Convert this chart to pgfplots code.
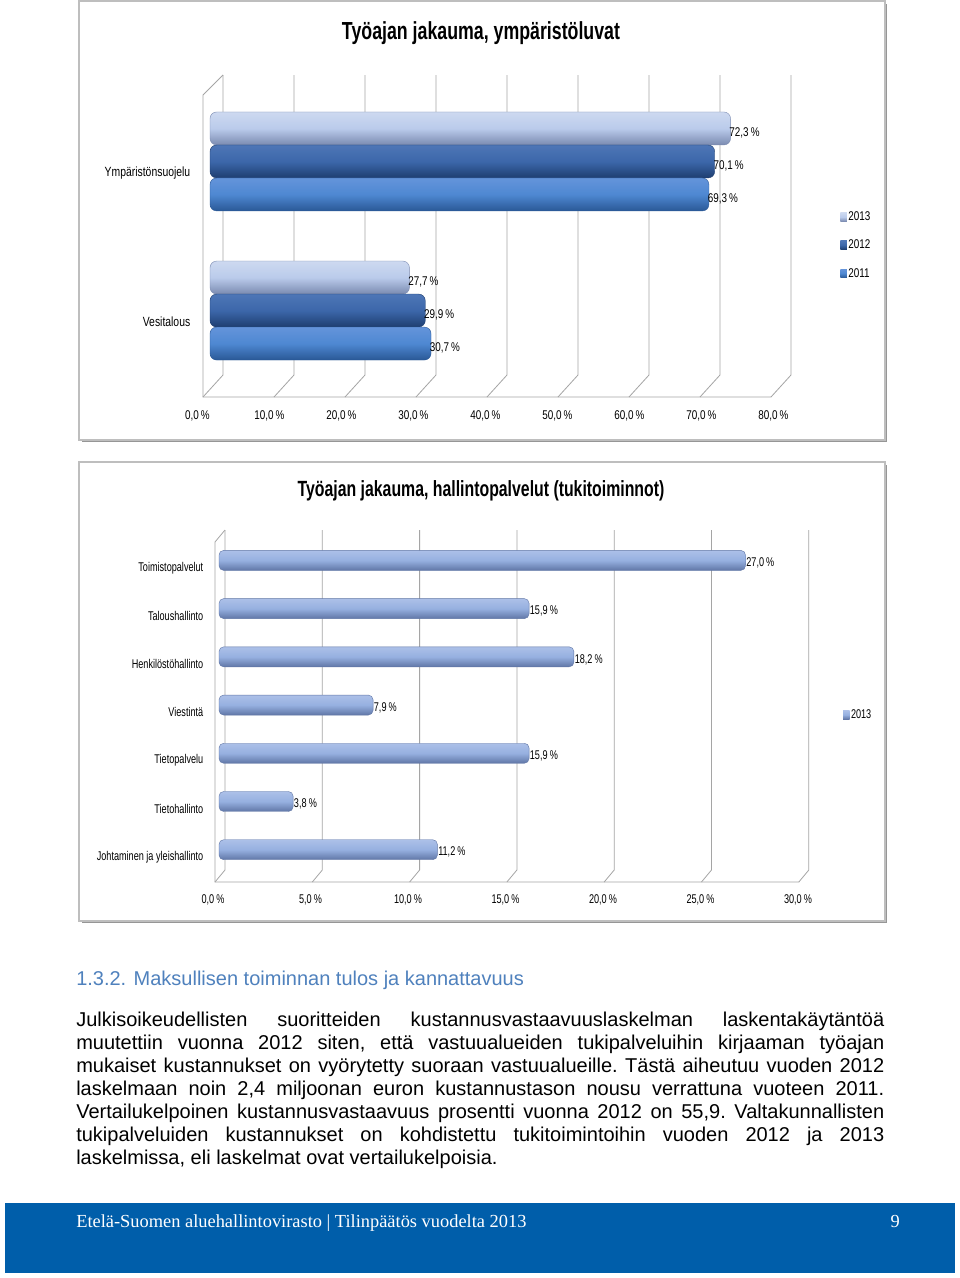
\documentclass[border=0pt]{standalone}
\usepackage{pgfplots}
\pgfplotsset{compat=1.18}
\usepackage{fontspec}
\setmainfont{Liberation Sans}
\newfontfamily\serif{Liberation Serif}
\newfontfamily\narrowA[FakeStretch=0.78]{Liberation Sans}
\newfontfamily\narrowB[FakeStretch=0.72]{Liberation Sans}
\newfontfamily\titlefont[FakeStretch=0.72]{Liberation Sans}

\definecolor{wallgray}{RGB}{165,165,165}
\definecolor{framegray}{RGB}{190,190,190}
\definecolor{shadowgray}{RGB}{150,150,150}
\definecolor{headblue}{RGB}{79,129,189}
\definecolor{footblue}{RGB}{0,94,170}
% 2013 (light), 2012 (dark), 2011 (medium)
\definecolor{c13t}{RGB}{205,217,240}
\definecolor{c13m}{RGB}{186,203,235}
\definecolor{c13b}{RGB}{122,138,176}
\definecolor{c12t}{RGB}{78,118,182}
\definecolor{c12m}{RGB}{60,103,170}
\definecolor{c12b}{RGB}{30,62,112}
\definecolor{c11t}{RGB}{100,148,218}
\definecolor{c11m}{RGB}{78,136,210}
\definecolor{c11b}{RGB}{42,88,150}
\definecolor{c2t}{RGB}{172,192,232}
\definecolor{c2m}{RGB}{150,176,224}
\definecolor{c2b}{RGB}{96,118,166}

\pgfkeys{/pgf/number format/.cd, fixed, fixed zerofill, precision=1, use comma, assume math mode=true}

\tikzset{
  wall/.style={draw=wallgray, line width=0.6pt},
  b13/.style={draw=c13b, line width=0.3pt, rounded corners=5pt, top color=c13t, bottom color=c13b, middle color=c13m},
  b12/.style={draw=c12b, line width=0.3pt, rounded corners=5pt, top color=c12t, bottom color=c12b, middle color=c12m},
  b11/.style={draw=c11b, line width=0.3pt, rounded corners=5pt, top color=c11t, bottom color=c11b, middle color=c11m},
  b2/.style={draw=c2b, line width=0.3pt, rounded corners=3.5pt, top color=c2t, bottom color=c2b, middle color=c2m},
}

\begin{document}
\begin{tikzpicture}
% page coordinates in pixels of the reference (1px = 0.75pt, y downwards)
\begin{scope}[x=0.75pt,y=-0.75pt]
\path[use as bounding box, fill=white] (0,0) rectangle (960,1278);

% chart 1 frame and walls
\fill[shadowgray] (82,4) rectangle (887,442);
\filldraw[fill=white, draw=framegray, line width=0.8pt] (79,1) rectangle (885,440);
\node[font=\titlefont\bfseries\fontsize{18.5}{22}\selectfont] at (481,33) {Työajan jakauma, ympäristöluvat};
\foreach \k in {0,...,8} {
  \pgfmathsetmacro\xx{223+71*\k}
  \draw[wall] (\xx,75) -- (\xx,375) -- ({\xx-20},397);
}
\draw[wall] (223,75) -- (203,95) -- (203,397) -- (771,397);

% chart 2 frame and walls
\fill[shadowgray] (82,465) rectangle (887,923);
\filldraw[fill=white, draw=framegray, line width=0.8pt] (79,462) rectangle (885,921);
\node[font=\titlefont\bfseries\fontsize{16.5}{20}\selectfont] at (481,491) {Työajan jakauma, hallintopalvelut (tukitoiminnot)};
\foreach \k in {0,...,6} {
  \pgfmathsetmacro\xx{225+97.3*\k}
  \draw[wall] (\xx,530) -- (\xx,870) -- ({\xx-10},882);
}
\draw[wall] (225,530) -- (215,542) -- (215,882) -- (799,882);

% text
\node[anchor=base west, inner sep=0pt, text=headblue, font=\fontsize{15}{17.25}\selectfont] at (76,985)
  {1.3.2. Maksullisen toiminnan tulos ja kannattavuus};
\node[anchor=north west, inner sep=0pt, text width=606pt, align=justify, font=\fontsize{15}{17.25}\selectfont] at (76,1012)
  {\noindent\frenchspacing\hyphenpenalty=10000\exhyphenpenalty=10000\sloppy
  Julkisoikeudellisten suoritteiden kustannusvastaavuuslaskelman laskentakäytäntöä\linebreak
  muutettiin vuonna 2012 siten, että vastuualueiden tukipalveluihin kirjaaman työajan\linebreak
  mukaiset kustannukset on vyörytetty suoraan vastuualueille. Tästä aiheutuu vuoden 2012\linebreak
  laskelmaan noin 2,4 miljoonan euron kustannustason nousu verrattuna vuoteen 2011.\linebreak
  Vertailukelpoinen kustannusvastaavuus prosentti vuonna 2012 on 55,9. Valtakunnallisten\linebreak
  tukipalveluiden kustannukset on kohdistettu tukitoimintoihin vuoden 2012 ja 2013\linebreak
  laskelmissa, eli laskelmat ovat vertailukelpoisia.};

% footer
\fill[footblue] (5,1203) rectangle (955,1273);
\node[anchor=base west, inner sep=0pt, text=white, font=\serif\fontsize{13.8}{16}\selectfont] at (76,1227)
  {Etelä-Suomen aluehallintovirasto | Tilinpäätös vuodelta 2013};
\node[anchor=base east, inner sep=0pt, text=white, font=\serif\fontsize{13.8}{16}\selectfont] at (900,1227) {9};
\end{scope}

% one \addplot per bar so that each bar gets its own cylinder shading
\begin{axis}[
  at={(157.5pt,-297.75pt)}, anchor=south west,
  scale only axis, width=432pt, height=241.5pt,
  xbar, bar width=24.75pt,
  xmin=0, xmax=80, ymin=-0.58, ymax=1.58,
  axis line style={draw=none}, major tick style={draw=none},
  xtick={0,10,...,80},
  xticklabel={\pgfmathprintnumber{\tick}\,\%},
  xticklabel style={font=\narrowA\fontsize{9.5}{11}\selectfont, xshift=-9.5pt, yshift=-6.5pt},
  ytick={0,1}, yticklabels={Vesitalous,Ympäristönsuojelu},
  yticklabel style={font=\narrowA\fontsize{10}{12}\selectfont, xshift=-7pt, yshift=-8.5pt},
  point meta=x,
  nodes near coords={\pgfmathprintnumber{\pgfplotspointmeta}\,\%},
  every node near coord/.append style={font=\narrowA\fontsize{9.5}{11}\selectfont, anchor=west, inner sep=0pt, xshift=-1pt, yshift=-3.5pt, text=black},
  legend style={draw=none, fill=none, at={(1.1215,0.4705)}, anchor=center,
    font=\narrowA\fontsize{9.5}{11}\selectfont, row sep=11pt, nodes={inner sep=1pt}},
  legend cell align=left,
  legend image code/.code={\path[#1, draw=none, rounded corners=0pt] (0pt,-3pt) rectangle (5pt,3.5pt);},
  clip=false,
]
\addplot[b13, bar shift=24.75pt] coordinates {(72.3,1)};
\addplot[b12, bar shift=0pt] coordinates {(70.1,1)};
\addplot[b11, bar shift=-24.75pt] coordinates {(69.3,1)};
\addplot[b13, bar shift=24.75pt, forget plot] coordinates {(27.7,0)};
\addplot[b12, bar shift=0pt, forget plot] coordinates {(29.9,0)};
\addplot[b11, bar shift=-24.75pt, forget plot] coordinates {(30.7,0)};
\legend{2013,2012,2011}
\end{axis}

\begin{axis}[
  at={(164.25pt,-661.5pt)}, anchor=south west,
  scale only axis, width=438.75pt, height=264pt,
  xbar, bar width=15pt, bar shift=0pt,
  xmin=0, xmax=30, ymin=-0.67, ymax=6.63,
  axis line style={draw=none}, major tick style={draw=none},
  xtick={0,5,...,30},
  xticklabel={\pgfmathprintnumber{\tick}\,\%},
  xticklabel style={font=\narrowB\fontsize{9.5}{11}\selectfont, xshift=-4.5pt, yshift=-6pt},
  ytick={0,...,6},
  yticklabels={Johtaminen ja yleishallinto,Tietohallinto,Tietopalvelu,Viestintä,Henkilöstöhallinto,Taloushallinto,Toimistopalvelut},
  yticklabel style={font=\narrowB\fontsize{9.5}{11}\selectfont, xshift=-4pt, yshift=-5.5pt},
  point meta=x,
  nodes near coords={\pgfmathprintnumber{\pgfplotspointmeta}\,\%},
  every node near coord/.append style={font=\narrowB\fontsize{9.5}{11}\selectfont, anchor=west, inner sep=0pt, xshift=0.5pt, yshift=-2pt, text=black},
  legend style={draw=none, fill=none, at={(1.092,0.474)}, anchor=center,
    font=\narrowB\fontsize{9.5}{11}\selectfont, nodes={inner sep=1pt}},
  legend image code/.code={\path[#1, draw=none, rounded corners=0pt] (0pt,-3pt) rectangle (5pt,3.5pt);},
  clip=false,
]
\addplot[b2] coordinates {(27.0,6)};
\addplot[b2, forget plot] coordinates {(15.9,5)};
\addplot[b2, forget plot] coordinates {(18.2,4)};
\addplot[b2, forget plot] coordinates {(7.9,3)};
\addplot[b2, forget plot] coordinates {(15.9,2)};
\addplot[b2, forget plot] coordinates {(3.8,1)};
\addplot[b2, forget plot] coordinates {(11.2,0)};
\legend{2013}
\end{axis}
\end{tikzpicture}
\end{document}
